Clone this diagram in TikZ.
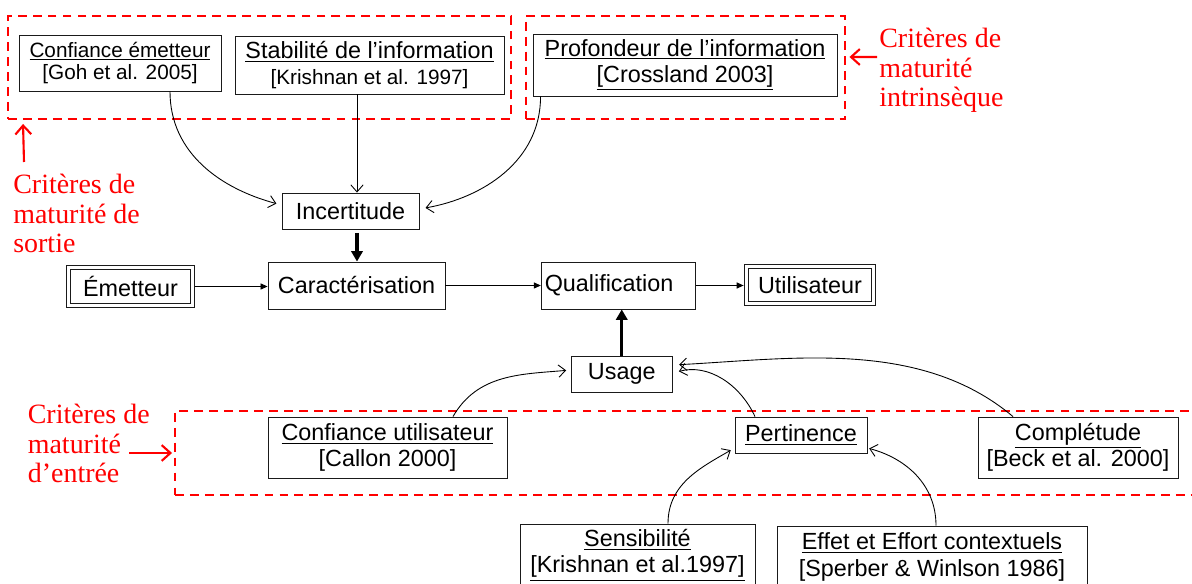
\documentclass[tikz,border=0pt]{standalone}
\usepackage{fontspec}
\setmainfont{Liberation Sans}
\newfontfamily\critfont{Liberation Serif}
\usetikzlibrary{arrows.meta}
\definecolor{critred}{HTML}{FF0000}
\definecolor{boxline}{HTML}{1A1A1A}
\newcommand{\boxfont}{\fontsize{13.3}{15}\selectfont}
\newcommand{\citefont}{\fontsize{11.8}{13}\selectfont}

\begin{document}
\begin{tikzpicture}[
  box/.style={draw=boxline, line width=0.5pt, align=center, inner sep=0pt, font=\boxfont},
  dbox/.style={box, double, double distance=1.5pt},
  frame/.style={draw=critred, line width=1.1pt, dash pattern=on 5pt off 3.5pt, inner sep=0pt},
  crit/.style={text=critred, font=\critfont\fontsize{15.9}{16.8}\selectfont, align=left, inner sep=0pt, anchor=north west},
  flow/.style={-{Triangle[length=4pt, width=3.5pt]}, line width=0.5pt},
  bold/.style={-{Triangle[length=6pt, width=6.5pt]}, line width=1.8pt},
  link/.style={-{Straight Barb[length=4pt, width=7pt]}, line width=0.5pt},
  redarrow/.style={-{Straight Barb[length=5pt, width=9pt]}, draw=critred, line width=1.2pt}]

\useasboundingbox (0,0) rectangle (23.84,11.66);

% Red dashed frames
\node[frame, minimum width=10.06cm, minimum height=2.06cm] (frameTL) at (5.19,10.31) {};
\node[frame, minimum width=6.38cm, minimum height=2.06cm] (frameTR) at (13.71,10.31) {};
\node[frame, minimum width=20.8cm, minimum height=1.68cm] (frameB) at (13.9,2.60) {};

% --- Output maturity criteria ---
\node[box, minimum width=4.04cm, minimum height=1.12cm, font=\citefont] (confemet) at (2.40,10.40)
  {\underline{Confiance émetteur}\\{}[Goh et al. 2005]};
\node[box, minimum width=5.38cm, minimum height=1.16cm] (stabinfo) at (7.39,10.36)
  {\underline{Stabilité de l’information}\\{}\citefont[Krishnan et al. 1997]};

% --- Intrinsic maturity criteria ---
\node[box, minimum width=6.08cm, minimum height=1.24cm] (profinfo) at (13.70,10.36)
  {\underline{Profondeur de l’information}\\{}\underline{[Crossland 2003]}};

% Main chain
\node[box, minimum width=2.74cm, minimum height=0.72cm] (incert) at (7.01,7.44) {Incertitude};
\node[dbox, minimum width=2.48cm, minimum height=0.76cm] (emet) at (2.61,5.93) {Émetteur};
\node[box, minimum width=3.54cm, minimum height=0.94cm] (caract) at (7.13,5.95) {Caractérisation};
\node[box, text width=2.95cm, align=left, inner xsep=2pt, minimum height=0.94cm] (qualif) at (12.37,5.95) {Qualification};
\node[dbox, minimum width=2.54cm, minimum height=0.74cm] (util) at (16.20,5.96) {Utilisateur};
\node[box, minimum width=2.03cm, minimum height=0.72cm] (usage) at (12.435,4.18) {Usage};

% --- Input maturity criteria ---
\node[box, minimum width=4.78cm, minimum height=1.22cm] (confutil) at (7.75,2.71)
  {\underline{Confiance utilisateur}\\{}[Callon 2000]};
\node[box, minimum width=2.64cm, minimum height=0.72cm] (pertin) at (16.02,2.96) {\underline{Pertinence}};
\node[box, minimum width=4.00cm, minimum height=1.22cm] (complet) at (21.56,2.71)
  {\underline{Complétude}\\{}[Beck et al. 2000]};
\node[box, minimum width=4.70cm, minimum height=1.24cm] (sensib) at (12.75,0.56)
  {\underline{Sensibilité}\\{}\underline{[Krishnan et al.1997]}};
\node[box, minimum width=6.20cm, minimum height=1.24cm] (effet) at (18.64,0.52)
  {\underline{Effet et Effort contextuels}\\{}[Sperber \& Winlson 1986]};

% Red labels
\node[crit] (intrins) at (17.58,11.10) {Critères de\\maturité\\intrinsèque};
\node[crit] (sortie) at (0.26,8.18) {Critères de\\maturité de\\sortie};
\node[crit] (entree) at (0.55,3.58) {Critères de\\maturité\\d’entrée};

\draw[redarrow] ([xshift=-0.04cm, yshift=-0.58cm]intrins.north west) -- ([xshift=0.07cm, yshift=0.21cm]frameTR.east);
\draw[redarrow] ([xshift=0.22cm, yshift=0.24cm]sortie.north west) -- ([xshift=0.32cm, yshift=-0.08cm]frameTL.south west);
\draw[redarrow] ([xshift=-0.9cm]frameB.west) -- ([xshift=-0.04cm]frameB.west);

% Connectors
\draw[link, shorten >=3pt] ([xshift=1cm]confemet.south) to[out=-90, in=165] ([yshift=0.12cm]incert.west);
\draw[link] ([xshift=-0.25cm]stabinfo.south) -- ([xshift=-0.25cm]stabinfo.south |- incert.north);
\draw[link, shorten >=3.5pt] ([xshift=0.16cm]profinfo.south west) to[out=-90, in=10] ([yshift=0.04cm]incert.east);
\draw[bold, shorten <=2pt] ([xshift=0.13cm]incert.south) -- ([xshift=0.13cm]incert.south |- caract.north);
\draw[flow, shorten <=1.4pt] (emet.east) -- (emet.east -| caract.west);
\draw[flow] (caract.east) -- (caract.east -| qualif.west);
\draw[flow, shorten >=1.4pt] (qualif.east) -- (qualif.east -| util.west);
\draw[bold] (usage.north) -- (usage.north |- qualif.south);
\draw[link, shorten >=2.5pt] ([xshift=1.31cm]confutil.north) to[out=60, in=185] ([yshift=0.08cm]usage.west);
\draw[link, shorten >=3.5pt] ([xshift=-0.92cm]pertin.north) to[out=115, in=15] ([yshift=0.02cm]usage.east);
\draw[link, shorten >=3.5pt] ([xshift=-1.30cm]complet.north) to[out=140, in=3, looseness=0.9] ([yshift=0.18cm]usage.east);
\draw[link, shorten >=2.5pt] ([xshift=0.61cm]sensib.north) to[out=90, in=210] ([yshift=-0.26cm]pertin.west);
\draw[link, shorten >=1pt] ([xshift=0.08cm]effet.north) to[out=90, in=-15] ([yshift=-0.26cm]pertin.east);

\end{tikzpicture}
\end{document}
